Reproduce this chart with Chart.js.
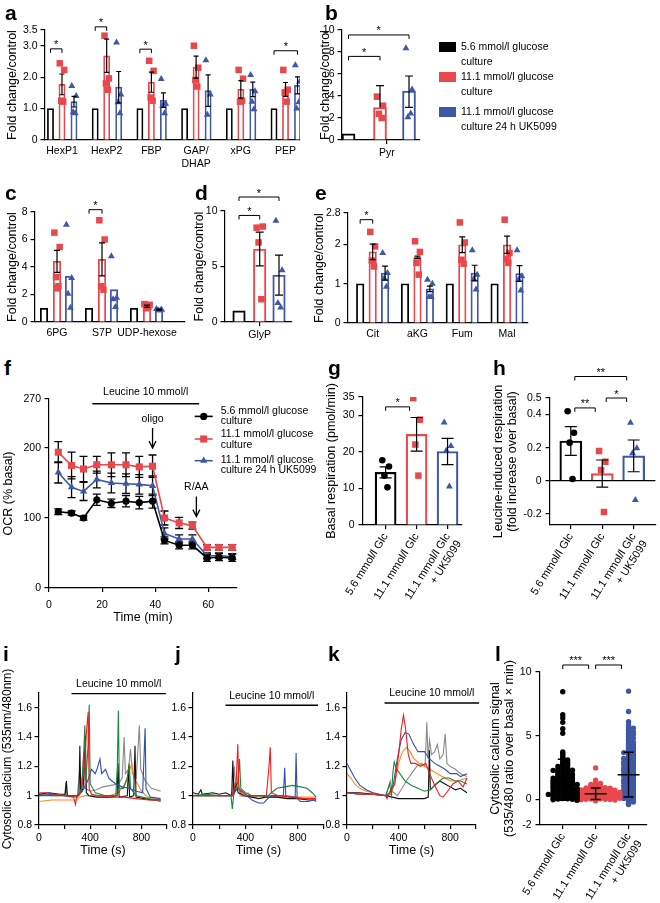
<!DOCTYPE html>
<html><head><meta charset="utf-8">
<script src="https://cdn.jsdelivr.net/npm/chart.js@4.4.1/dist/chart.umd.min.js"></script>
<style>
html,body{margin:0;padding:0;background:#fff;}
#fig{position:relative;width:660px;height:903px;overflow:hidden;background:#fff;font-family:"Liberation Sans",Arial,Helvetica,sans-serif;color:#000;}
#fig canvas{position:absolute;}
.pl{position:absolute;font-weight:bold;font-size:21px;line-height:21px;}
.lg{position:absolute;font-size:10.5px;line-height:15px;white-space:nowrap;}
.sw{position:absolute;width:17px;height:10px;}
</style></head><body><div id="fig"></div>
<script>
// ================= DATA =================
// panel a
const aCats = ['HexP1','HexP2','FBP',['GAP/','DHAP'],'xPG','PEP'];
const aYTicks = [0,1,2,3,3.5];
const aYLabels = ['0','1.0','2.0','3.0','3.5'];
const aCtrl = [1,1,1,1,1,1];
const aHigh = [1.77,2.68,1.84,2.32,1.61,1.61];
const aHighSem = [0.33,0.53,0.32,0.35,0.28,0.22];
const aUk = [1.22,1.68,1.27,1.57,1.61,1.74];
const aUkSem = [0.17,0.5,0.23,0.5,0.23,0.27];
const aHighPts = [[2.44,2.23,1.25,1.22],[3.32,1.96,1.8,1.6],[2.52,2.2,1.35,1.25],[3.0,2.3,1.91,1.7],[2.23,1.95,1.22,1.25],[2.23,1.6,1.5,1.22]];
const aUkPts = [[1.72,1.4,0.88,0.85],[3.1,1.45,1.2,0.85],[1.94,1.15,1.08,0.85],[2.54,1.45,0.8],[2.07,1.55,1.22,0.98],[2.38,1.85,1.0,1.2]];
const aSig = [[0,0,1,2.9,'*'],[1,0,1,3.6,'*'],[2,0,1,2.89,'*'],[5,0,2,2.84,'*']];
// panel b
const bCats = ['Pyr'];
const bYTicks = [0,2,4,6,8,10];
const bCtrl = [0.55];
const bHigh = [2.95], bHighSem = [2.0], bHighLo = [0];
const bUk = [4.45], bUkSem = [1.37], bUkLo = [1.48];
const bHighPts = [[3.94,3.12,2.38,2.0]];
const bUkPts = [[8.33,4.6,2.06,2.4]];
const bSig = [[0,0,1,7.6,'*'],[0,0,2,9.55,'*']];
const bLegend = [['5.6 mmol/l glucose','culture'],['11.1 mmol/l glucose','culture'],['11.1 mmol/l glucose','culture 24 h UK5099']];
// panel c
const cCats = ['6PG','S7P','UDP-hexose'];
const cYTicks = [0,2,4,6,8];
const cCtrl = [1,1,1];
const cHigh = [4.41,4.56,1.15], cHighSem = [0.8,1.2,0.08];
const cUk = [3.32,2.35,0.9], cUkSem = [0,0,0.03];
const cHighPts = [[6.5,5.45,3.27,2.6,2.45],[7.4,6.0,2.6,2.35],[1.3,1.25,1.0,1.1]];
const cUkPts = [[7.08,3.2,2.06,1.04],[4.78,1.77,1.65,1.1],[0.95,0.9,0.85,0.85]];
const cSig = [[1,0,1,8.17,'*']];
// panel d
const dCats = ['GlyP'];
const dYTicks = [0,5,10];
const dCtrl = [1];
const dHigh = [6.57], dHighSem = [1.52];
const dUk = [4.22], dUkSem = [1.8];
const dHighPts = [[8.5,8.6,7.17,2.05]];
const dUkPts = [[9.12,4.67,1.72,1.3]];
const dSig = [[0,0,1,9.6,'*'],[0,0,2,11.26,'*']];
// panel e
const eCats = ['Cit','aKG','Fum','Mal'];
const eYTicks = [0,1,2,2.8];
const eCtrl = [1,1,1,1];
const eHigh = [1.81,1.67,1.99,1.99], eHighSem = [0.2,0.03,0.2,0.22];
const eUk = [1.27,0.87,1.27,1.26], eUkSem = [0.18,0.07,0.2,0.2];
const eHighPts = [[2.32,1.95,1.59,1.44],[2.08,1.81,1.53,1.23],[2.56,2.05,1.61,1.51],[2.63,1.78,1.63,1.53]];
const eUkPts = [[1.78,1.27,1.13,0.92],[1.1,1.0,0.66,0.66],[1.85,1.23,1.12,0.85],[1.85,1.19,1.1,0.83]];
const eSig = [[0,0,1,2.63,'*']];
// panel f
const fTime = [3.5,8.5,13,18,23.5,29,34,39,43.5,49,54,59.5,64,69];
const fLow = [109,107,100,126,121,124,122,124,68,61,61,43,44,43];
const fLowSem = [4,3,3,8,6,8,9,10,5,5,5,5,5,5];
const fHigh = [194,175,170,176,176,176,173,174,100,93,89,58,58,58];
const fHighSem = [15,19,18,12,17,17,15,16,10,8,5,4,4,4];
const fUk = [165,144,138,155,150,149,148,146,78,70,70,46,46,45];
const fUkSem = [15,15,13,12,14,14,14,14,8,6,6,4,4,4];
const fYTicks = [0,100,200,270];
const fXTicks = [0,20,40,60];
const fLeucine = [16.3,56.5];
const fInject = [['oligo',39,200],['R/AA',55.5,102]];
const fLegend = [['5.6 mmol/l glucose','culture'],['11.1 mmol/l glucose','culture'],['11.1 mmol/l glucose','culture 24 h UK5099']];
// panel g
const gCats = ['5.6 mmol/l Glc','11.1 mmol/l Glc',['11.1 mmol/l Glc','+ UK5099']];
const gYTicks = [0,10,20,30,35];
const gLow = [14.4], gLowSem = [1.5], gLowPts = [[17.7,16,13.5,10.3]];
const gHigh = [24.8], gHighSem = [4.6], gHighPts = [[34.7,28.8,22,13.5]];
const gUk = [20.1], gUkSem = [3.6], gUkPts = [[28,21.6,20.3,10.5]];
const gSig = [[0,0,1,32.3,'*']];
// panel h
const hYTicks = [-0.2,0,0.2,0.4,0.5];
const hLow = [0.24], hLowSem = [0.087], hLowPts = [[0.42,0.29,0.23,0.01]];
const hHigh = [0.043], hHighSem = [0.082], hHighPts = [[0.18,0.115,0.065,-0.19]];
const hUk = [0.15], hUkSem = [0.096], hUkPts = [[0.35,0.196,0.166,-0.117]];
const hSig = [[0,0,1,0.44,'**'],[0,1,2,0.5,'*'],[0,0,2,0.63,'**']];
// panels i, j, k  (time s, 535/480 ratio)
const caXTicks = [0,200,400,600,800,1000];
const caXLabels = ['0','','400','','800',''];
const caYTicks = [0.8,1,1.2,1.4,1.6];
const caYLabels = ['0.8','1','1.2','1.4','1.6'];
const iLeucine = [254,991], jLeucine = [248,954], kLeucine = [291,1024];
const iRed = [[0,1.02],[60,1.02],[120,1.01],[200,1.0],[270,0.99],[285,0.94],[295,1.0],[330,1.03],[355,1.2],[372,1.45],[384,1.57],[392,1.05],[410,1.01],[470,1.0],[560,0.99],[660,0.99],[760,0.98],[860,0.97],[950,0.97]];
const iBlack = [[0,1.01],[80,1.02],[160,1.01],[205,1.01],[214,1.1],[222,1.0],[300,1.0],[312,1.0],[319,1.34],[326,1.02],[345,1.05],[362,1.41],[370,1.02],[390,1.0],[450,0.99],[560,0.99],[610,1.0],[618,1.22],[626,0.99],[690,1.0],[700,1.2],[708,0.99],[740,1.0],[750,1.34],[758,0.99],[820,0.98],[880,0.97],[950,0.97]];
const iGreen = [[0,1.0],[100,1.0],[200,1.0],[300,0.99],[335,1.05],[350,1.3],[358,1.48],[366,1.1],[384,1.35],[392,1.62],[400,1.08],[440,1.02],[520,1.0],[600,1.0],[612,1.2],[620,1.58],[628,1.05],[660,1.05],[690,1.12],[705,1.22],[715,1.05],[760,1.0],[860,0.98],[950,0.96]];
const iGray = [[0,1.01],[100,1.0],[200,1.0],[210,1.09],[218,1.0],[300,1.0],[320,1.2],[330,1.04],[350,1.3],[360,1.05],[400,1.03],[450,1.04],[500,1.06],[560,1.07],[620,1.08],[650,1.12],[665,1.4],[675,1.15],[700,1.18],[715,1.32],[730,1.15],[760,1.12],[784,1.48],[795,1.18],[830,1.1],[880,1.05],[950,1.03]];
const iOrange = [[0,0.96],[100,0.97],[200,0.97],[290,0.97],[320,0.99],[360,1.0],[450,1.0],[550,1.0],[620,1.02],[670,1.08],[700,1.15],[725,1.22],[740,1.12],[770,1.08],[800,1.03],[850,0.99],[950,0.97]];
const iBlue = [[0,1.0],[100,1.01],[200,1.0],[300,1.0],[340,1.03],[380,1.1],[410,1.18],[440,1.15],[460,1.2],[476,1.25],[490,1.15],[520,1.18],[545,1.12],[570,1.1],[600,1.08],[650,1.06],[700,1.05],[760,1.03],[810,1.02],[822,1.3],[829,1.46],[836,1.05],[870,0.99],[950,0.98]];
const jRed = [[0,1.0],[100,1.0],[200,1.0],[300,1.0],[330,1.1],[342,1.35],[350,1.05],[380,1.0],[450,1.0],[560,1.0],[580,1.2],[590,1.33],[598,1.02],[650,1.0],[750,0.99],[850,0.98],[940,0.98]];
const jBlack = [[0,1.02],[40,1.01],[60,1.04],[70,1.01],[150,1.02],[200,1.01],[250,1.02],[295,1.0],[304,1.24],[312,1.02],[330,1.08],[345,1.02],[400,1.0],[450,0.99],[500,0.98],[560,0.99],[640,0.99],[720,0.98],[800,0.98],[880,0.97],[940,0.97]];
const jGreen = [[0,1.0],[100,1.01],[200,1.0],[290,1.0],[300,0.91],[310,1.0],[345,1.1],[355,1.25],[365,1.05],[400,1.02],[450,1.0],[520,1.0],[560,0.99],[600,1.02],[640,1.05],[700,1.06],[760,1.07],[820,1.06],[870,1.05],[910,1.02],[940,0.99]];
const jGray = [[0,1.0],[100,1.0],[200,1.0],[300,1.0],[315,1.2],[325,1.05],[345,1.1],[360,1.0],[450,0.99],[550,1.0],[650,0.99],[750,0.99],[850,0.98],[940,0.98]];
const jOrange = [[0,1.0],[100,1.0],[200,1.0],[300,1.0],[335,1.15],[345,1.05],[400,1.0],[420,1.02],[440,1.0],[520,1.0],[600,1.0],[700,1.0],[800,0.99],[940,0.99]];
const jBlue = [[0,1.0],[100,1.0],[200,1.0],[300,1.0],[340,1.05],[360,1.04],[400,1.01],[450,0.97],[500,0.95],[540,0.95],[570,0.98],[600,1.0],[650,1.0],[690,1.0],[700,1.19],[708,1.0],[750,0.99],[780,0.99],[787,1.29],[795,0.98],[820,0.96],[880,0.96],[920,0.97],[940,0.96]];
const kRed = [[0,1.02],[100,1.01],[200,1.01],[300,1.0],[310,0.98],[330,1.02],[370,1.08],[400,1.28],[420,1.45],[438,1.55],[455,1.45],[475,1.28],[495,1.22],[530,1.22],[570,1.2],[610,1.22],[640,1.15],[680,1.07],[720,1.0],[745,0.99],[780,1.03],[820,1.08],[860,1.1],[900,1.06],[930,1.12]];
const kBlack = [[0,1.02],[100,1.02],[200,1.01],[300,1.0],[350,0.99],[400,0.98],[500,0.98],[600,0.98],[630,0.99],[639,1.31],[646,1.04],[680,1.07],[720,1.1],[760,1.08],[800,1.06],[840,1.04],[880,1.05],[930,1.02]];
const kGreen = [[0,1.02],[100,1.01],[200,1.01],[300,1.0],[330,1.08],[345,1.0],[355,1.15],[366,1.23],[380,1.19],[410,1.15],[450,1.1],[500,1.07],[550,1.05],[600,1.03],[645,1.04],[690,1.08],[745,1.12],[790,1.12],[840,1.1],[880,1.1],[930,1.08]];
const kGray = [[0,1.02],[100,1.01],[200,1.01],[300,1.0],[320,1.05],[335,1.1],[350,1.03],[390,1.0],[420,1.04],[460,1.1],[500,1.15],[540,1.2],[580,1.22],[605,1.2],[619,1.5],[628,1.25],[640,1.38],[655,1.28],[680,1.3],[700,1.35],[720,1.25],[745,1.28],[761,1.42],[775,1.22],[800,1.2],[840,1.18],[880,1.15],[930,1.13]];
const kOrange = [[0,1.15],[30,1.12],[60,1.08],[100,1.05],[150,1.03],[200,1.02],[300,1.0],[340,1.01],[370,1.08],[400,1.22],[430,1.3],[460,1.33],[490,1.3],[520,1.25],[560,1.22],[600,1.2],[640,1.18],[700,1.15],[760,1.12],[800,1.1],[850,1.1],[930,1.12]];
const kBlue = [[0,1.22],[30,1.17],[60,1.12],[100,1.07],[150,1.04],[200,1.02],[300,1.0],[330,1.02],[360,1.08],[390,1.25],[420,1.38],[450,1.43],[480,1.42],[510,1.36],[550,1.3],[600,1.3],[640,1.25],[680,1.22],[720,1.2],[760,1.18],[800,1.15],[850,1.15],[880,1.13],[930,1.15]];
// panel l
const lYTicks = [-2,0,5,10];
const lLow = [8.45,6.65,6.4,6.05,5.55,5.2,3.72,3.6,3.45,3.3,3.2,3.1,3.0,2.95,2.85,2.8,2.72,2.65,2.6,2.55,2.48,2.42,2.4,2.35,2.3,2.28,2.22,2.18,2.15,2.1,2.05,2.02,1.98,1.95,1.9,1.88,1.84,1.8,1.78,1.74,1.7,1.68,1.64,1.6,1.58,1.55,1.5,1.48,1.45,1.42,1.4,1.36,1.33,1.3,1.27,1.24,1.2,1.18,1.15,1.12,1.1,1.06,1.03,1.0,0.98,0.95,0.92,0.9,0.87,0.84,0.82,0.8,0.77,0.74,0.72,0.7,0.67,0.64,0.62,0.6,0.57,0.54,0.52,0.5,0.47,0.44,0.42,0.4,0.37,0.34,0.32,0.3,0.27,0.24,0.22,0.2,0.17,0.14,0.12,0.1,0.07,0.05,0.03,0.01,-0.02,-0.05];
const lHigh = [2.48,1.52,1.32,1.25,1.18,1.12,1.08,1.04,1.0,0.98,0.95,0.92,0.9,0.88,0.86,0.84,0.82,0.8,0.78,0.76,0.74,0.72,0.7,0.69,0.67,0.65,0.63,0.62,0.6,0.58,0.57,0.55,0.54,0.52,0.5,0.49,0.47,0.46,0.44,0.43,0.41,0.4,0.38,0.37,0.35,0.34,0.32,0.31,0.3,0.28,0.27,0.25,0.24,0.22,0.21,0.2,0.18,0.17,0.15,0.14,0.13,0.11,0.1,0.08,0.07,0.05,0.04,0.02,0.01,0.0,-0.02,-0.04,-0.06,-0.1];
const lUk = [8.5,6.9,6.1,5.85,5.7,5.6,5.5,5.4,5.3,5.2,5.1,5.0,4.9,4.8,4.7,4.6,4.5,4.42,4.35,4.25,4.18,4.1,4.02,3.95,3.88,3.8,3.74,3.68,3.6,3.54,3.48,3.4,3.35,3.28,3.22,3.15,3.1,3.05,2.98,2.92,2.86,2.8,2.74,2.68,2.62,2.56,2.5,2.45,2.4,2.34,2.28,2.22,2.16,2.1,2.05,2.0,1.94,1.88,1.82,1.76,1.7,1.64,1.58,1.52,1.46,1.4,1.34,1.28,1.22,1.16,1.1,1.04,0.98,0.92,0.86,0.8,0.74,0.68,0.62,0.56,0.5,0.44,0.38,0.32,0.26,0.2,0.14,0.08,0.02,-0.05,-0.12,-0.2,-0.3,-0.4];
const lMean = [1.55,0.45,1.95];
const lSd = [1.6,0.45,1.75];
const lSig = [[0,1,10.55,'***'],[1,2,10.55,'***']];

// ================= SETUP =================
const FONT = '"Liberation Sans", Arial, Helvetica, sans-serif';
Chart.defaults.font.family = FONT;
Chart.defaults.color = '#000';
Chart.defaults.animation = false;
Chart.defaults.responsive = false;
Chart.defaults.events = [];
Chart.defaults.plugins.legend.display = false;
Chart.defaults.plugins.tooltip.enabled = false;
const RED = '#e8474c', BLUE = '#3e58a6', BLK = '#000000';
const fig = document.getElementById('fig');

function makeCanvas(area, ext){
  const c = document.createElement('canvas');
  const L = area.x0 - ext.l, T = area.y0 - ext.t;
  const W = Math.round(area.x1 - area.x0 + ext.l + ext.r), H = Math.round(area.y1 - area.y0 + ext.t + ext.b);
  c.width = W; c.height = H;
  c.style.left = L + 'px'; c.style.top = T + 'px'; c.style.width = W + 'px'; c.style.height = H + 'px';
  fig.appendChild(c);
  return {c, L, T};
}
function xAxis(o){
  return {type:'linear', min:o.min, max:o.max, offset:false, position:'bottom',
    afterFit: s => { s.height = o.height; },
    afterBuildTicks: s => { s.ticks = o.ticks.map(v => ({value:v})); },
    ticks:{autoSkip:false, includeBounds:false, maxRotation:o.rot||0, minRotation:o.rot||0, font:{size:o.fs||10.5}, color:'#000', padding:(o.pad===undefined?3:o.pad), callback:(v,i)=>o.labels[i]},
    grid:{offset:false, drawOnChartArea:false, drawTicks:true, tickLength:(o.tl===undefined?4:o.tl), color:(o.tl===0?'rgba(0,0,0,0)':'#000'), lineWidth:1.2},
    border:{display:true, color:'#000', width:1.2},
    title: o.title ? {display:true, text:o.title, font:{size:12.5}, color:'#000', padding:{top:0, bottom:o.tpb||0}} : {display:false}};
}
function yAxis(o){
  return {type:'linear', min:o.min, max:o.max, position:'left',
    afterFit: s => { s.width = o.width; },
    afterBuildTicks: s => { s.ticks = o.ticks.map(v => ({value:v})); },
    ticks:{autoSkip:false, font:{size:o.fs||10.5}, color:'#000', padding:(o.pad===undefined?3:o.pad), callback:(v,i)=>o.labels[i]},
    grid:{drawOnChartArea:!!o.zero, drawTicks:true, tickLength:(o.tl||4.5), tickColor:'#000', tickWidth:1.2,
      color:(o.zero ? (ctx => (ctx.tick && ctx.tick.value === 0) ? '#000' : 'rgba(0,0,0,0)') : '#000'), lineWidth:1.2},
    border:{display:true, color:'#000', width:1.2},
    title: o.title ? {display:true, text:o.title, font:{size:(o.tfs||12.5), lineHeight:(o.lh||1.2)}, color:'#000', padding:{top:o.tp||0, bottom:0}} : {display:false}};
}
function drawErr(ch, o){
  if (!o || !o.items) return;
  const ctx = ch.ctx, x = ch.scales.x, y = ch.scales.y;
  ctx.save(); ctx.lineWidth = o.lw || 1.2; ctx.strokeStyle = '#000';
  for (const it of o.items){
    const lo = (it.lo === undefined ? it.e : it.lo);
    const px = x.getPixelForValue(it.x);
    const yt = y.getPixelForValue(it.m + it.e), yb = y.getPixelForValue(it.m - lo), ym = y.getPixelForValue(it.m);
    ctx.beginPath();
    if (it.e > 0 || lo > 0){ ctx.moveTo(px, yt); ctx.lineTo(px, yb); }
    if (it.e > 0){ ctx.moveTo(px - o.cap/2, yt); ctx.lineTo(px + o.cap/2, yt); }
    if (lo > 0){ ctx.moveTo(px - o.cap/2, yb); ctx.lineTo(px + o.cap/2, yb); }
    if (o.meanW){ ctx.moveTo(px - o.meanW/2, ym); ctx.lineTo(px + o.meanW/2, ym); }
    ctx.stroke();
  }
  ctx.restore();
}
const errPlugin = {id:'errbars',
  beforeDatasetsDraw(ch, a, o){ if (o && o.under) drawErr(ch, o); },
  afterDatasetsDraw(ch, a, o){ if (o && !o.under) drawErr(ch, o); }};
const brPlugin = {id:'brackets', afterDraw(ch, a, o){
  if (!o || !o.items) return;
  const ctx = ch.ctx, x = ch.scales.x, y = ch.scales.y;
  ctx.save(); ctx.strokeStyle = '#000'; ctx.fillStyle = '#000'; ctx.lineWidth = 1;
  ctx.font = '11px ' + FONT; ctx.textAlign = 'center'; ctx.textBaseline = 'alphabetic';
  for (const b of o.items){
    const x1 = x.getPixelForValue(b.x1) + (o.in1||0), x2 = x.getPixelForValue(b.x2) - (o.in2||0), py = y.getPixelForValue(b.y);
    ctx.beginPath(); ctx.moveTo(x1, py + o.tick); ctx.lineTo(x1, py); ctx.lineTo(x2, py); ctx.lineTo(x2, py + o.tick); ctx.stroke();
    ctx.fillText(b.t, (x1 + x2)/2, py - 0.5);
  }
  ctx.restore();
}};
const leuPlugin = {id:'leu', afterDraw(ch, a, o){
  if (!o || !o.t) return;
  const ctx = ch.ctx, x = ch.scales.x, top = ch.chartArea.top;
  const x1 = x.getPixelForValue(o.t[0]), x2 = x.getPixelForValue(o.t[1]);
  ctx.save(); ctx.strokeStyle = '#000'; ctx.lineWidth = 1.4;
  ctx.beginPath(); ctx.moveTo(x1, top + o.barDy); ctx.lineTo(x2, top + o.barDy); ctx.stroke();
  ctx.fillStyle = '#000'; ctx.font = '10.5px ' + FONT; ctx.textAlign = 'center'; ctx.textBaseline = 'middle';
  ctx.fillText('Leucine 10 mmol/l', (x1 + x2)/2, top + o.textDy);
  ctx.restore();
}};
Chart.register(errPlugin, brPlugin, leuPlugin);

const JIT = [-2.2, 2.2, -0.8, 1.2, 0];
function panelBars(P){
  const {c} = makeCanvas(P.area, P.ext);
  const pxu = (P.area.x1 - P.area.x0) / (P.xMax - P.xMin);
  const ds = [], err = [];
  P.series.forEach((s, k) => {
    const off = P.offPx[k] / pxu;
    ds.push({type:'bar', data:s.mean.map((m,i)=>({x:i+off, y:m})), backgroundColor:'#ffffff', borderColor:s.color, borderWidth:P.bw, barThickness:P.barPx, grouped:false, borderSkipped:'start', order:5});
    if (s.pts) ds.push({type:'scatter', data:s.pts.flatMap((arr,i)=>arr.map((v,j)=>({x:i+off+JIT[j%JIT.length]*P.jit/pxu, y:v}))),
      pointStyle:s.style, pointRadius:s.r, pointBackgroundColor:s.color, pointBorderColor:s.color, pointBorderWidth:0, order:1});
    if (s.sem) s.sem.forEach((e,i)=>err.push({x:i+off, m:s.mean[i], e:e, lo:(s.lo?s.lo[i]:undefined)}));
  });
  const br = (P.sig||[]).map(b => ({x1:b[0]+P.offPx[b[1]]/pxu, x2:b[0]+P.offPx[b[2]]/pxu, y:b[3], t:b[4]}));
  const xo = Object.assign({min:P.xMin, max:P.xMax, height:P.ext.b}, P.x);
  const yo = Object.assign({width:P.ext.l}, P.y);
  return new Chart(c, {type:'bar', data:{datasets:ds}, options:{
    layout:{padding:{left:0, top:P.ext.t, right:P.ext.r, bottom:0}},
    scales:{x:xAxis(xo), y:yAxis(yo)},
    plugins:{errbars:{items:err, cap:P.cap, lw:1.2}, brackets:{items:br, in1:P.in1||0, in2:P.in2||0, tick:4}}}});
}
const idx = arr => arr.map((c,i)=>i);

// ---------- a ----------
panelBars({area:{x0:45,x1:300,y0:30,y1:140}, ext:{l:45,r:6,t:22,b:32}, xMin:-0.380, xMax:5.324,
  offPx:[-11.5,0,12], barPx:6.2, bw:1.7, cap:5, jit:1,
  x:{ticks:idx(aCats), labels:aCats, tl:0, pad:5, fs:10.5},
  y:{min:0, max:3.5, ticks:aYTicks, labels:aYLabels, title:'Fold change/control', tp:5.5, pad:3},
  series:[{mean:aCtrl, color:BLK},{mean:aHigh, sem:aHighSem, pts:aHighPts, color:RED, style:'rect', r:4.6},{mean:aUk, sem:aUkSem, pts:aUkPts, color:BLUE, style:'triangle', r:4}],
  sig:aSig});
// ---------- b ----------
panelBars({area:{x0:342,x1:420,y0:30,y1:140}, ext:{l:42,r:6,t:20,b:26}, xMin:-1.267, xMax:1.333,
  offPx:[-31.5,0,29], barPx:13, bw:2, cap:8, jit:1.4,
  x:{ticks:[0.23], labels:bCats, pad:3, fs:10.5},
  y:{min:0, max:10, ticks:bYTicks, labels:bYTicks.map(String), title:'Fold change/control', tp:18.5, pad:3},
  series:[{mean:bCtrl, color:BLK},{mean:bHigh, sem:bHighSem, lo:bHighLo, pts:bHighPts, color:RED, style:'rect', r:4.6},{mean:bUk, sem:bUkSem, lo:bUkLo, pts:bUkPts, color:BLUE, style:'triangle', r:4}],
  sig:bSig});
// ---------- c ----------
panelBars({area:{x0:35,x1:185,y0:212,y1:322}, ext:{l:35,r:6,t:24,b:24}, xMin:-0.489, xMax:2.844,
  offPx:[-13,0,12], barPx:7.5, bw:1.8, cap:6, jit:1.2,
  x:{ticks:idx(cCats), labels:cCats, tl:0, pad:5, fs:10.5},
  y:{min:0, max:8, ticks:cYTicks, labels:cYTicks.map(String), title:'Fold change/control', tp:5, pad:3},
  series:[{mean:cCtrl, color:BLK},{mean:cHigh, sem:cHighSem, pts:cHighPts, color:RED, style:'rect', r:4.6},{mean:cUk, sem:cUkSem, pts:cUkPts, color:BLUE, style:'triangle', r:4}],
  sig:cSig});
// ---------- d ----------
panelBars({area:{x0:225,x1:292,y0:211,y1:322}, ext:{l:35,r:6,t:34,b:24}, xMin:-1.735, xMax:1.615,
  offPx:[-20.7,0,19.3], barPx:12.5, bw:2, cap:8, jit:1.4,
  x:{ticks:[0], labels:dCats, pad:3, fs:10.5},
  y:{min:0, max:10, ticks:dYTicks, labels:dYTicks.map(String), title:'Fold change/control', tp:2.5, pad:3},
  series:[{mean:dCtrl, color:BLK},{mean:dHigh, sem:dHighSem, pts:dHighPts, color:RED, style:'rect', r:4.6},{mean:dUk, sem:dUkSem, pts:dUkPts, color:BLUE, style:'triangle', r:4}],
  sig:dSig});
// ---------- e ----------
panelBars({area:{x0:348,x1:528,y0:213,y1:323}, ext:{l:40,r:8,t:22,b:24}, xMin:-0.551, xMax:3.467,
  offPx:[-12.5,0,12.4], barPx:7.5, bw:1.8, cap:6, jit:1.1,
  x:{ticks:idx(eCats), labels:eCats, tl:0, pad:5, fs:10.5},
  y:{min:0, max:2.8, ticks:eYTicks, labels:eYTicks.map(String), title:'Fold change/control', tp:4.5, pad:3},
  series:[{mean:eCtrl, color:BLK},{mean:eHigh, sem:eHighSem, pts:eHighPts, color:RED, style:'rect', r:4.6},{mean:eUk, sem:eUkSem, pts:eUkPts, color:BLUE, style:'triangle', r:4}],
  sig:eSig});

// ---------- f ----------
(function(){
  const area = {x0:49.3, x1:237, y0:399.3, y1:588.3}, ext = {l:49, r:92, t:20, b:38};
  const {c, L, T} = makeCanvas(area, ext);
  const mk = (vals, col, style, r) => ({type:'line', data:fTime.map((t,i)=>({x:t, y:vals[i]})), borderColor:col, borderWidth:1.6,
    pointStyle:style, pointRadius:r, pointBackgroundColor:col, pointBorderColor:col, pointBorderWidth:0, tension:0});
  const err = [];
  [[fLow,fLowSem],[fHigh,fHighSem],[fUk,fUkSem]].forEach(([v,s]) => fTime.forEach((t,i) => err.push({x:t, m:v[i], e:s[i]})));
  const fExtra = {id:'fextra', afterDraw(ch){
    const ctx = ch.ctx, x = ch.scales.x, y = ch.scales.y;
    ctx.save(); ctx.fillStyle = '#000'; ctx.strokeStyle = '#000'; ctx.lineWidth = 1.3;
    ctx.font = '10.5px ' + FONT; ctx.textAlign = 'center'; ctx.textBaseline = 'middle';
    for (const [lab, t, tip] of fInject){
      const px = x.getPixelForValue(t), py = y.getPixelForValue(tip);
      ctx.beginPath(); ctx.moveTo(px, py - 20); ctx.lineTo(px, py); ctx.moveTo(px - 3.5, py - 7); ctx.lineTo(px, py); ctx.lineTo(px + 3.5, py - 7); ctx.stroke();
      ctx.fillText(lab, px, py - 29);
    }
    const cols = [BLK, RED, BLUE], styles = ['circle','rect','triangle'], rads = [3.6,5,4.2];
    const rowY = [416.7, 439.3, 461], textY = [[411,421.5],[434.5,445],[460,470.5]];
    ctx.textAlign = 'left';
    fLegend.forEach((lines, k) => {
      const ry = rowY[k] - T;
      ctx.strokeStyle = cols[k]; ctx.lineWidth = 1.6;
      ctx.beginPath(); ctx.moveTo(195 - L, ry); ctx.lineTo(213 - L, ry); ctx.stroke();
      ctx.fillStyle = cols[k];
      Chart.helpers.drawPoint(ctx, {pointStyle:styles[k], radius:rads[k], rotation:0, borderWidth:0}, 204 - L, ry);
      ctx.fillStyle = '#000';
      lines.forEach((s, j) => ctx.fillText(s, 221 - L, textY[k][j] - T));
    });
    ctx.restore();
  }};
  new Chart(c, {type:'line', data:{datasets:[mk(fHigh,RED,'rect',5), mk(fLow,BLK,'circle',3.6), mk(fUk,BLUE,'triangle',4.2)]},
    options:{layout:{padding:{left:0, top:ext.t, right:ext.r, bottom:0}},
      scales:{x:xAxis({min:0, max:70.8, ticks:fXTicks, labels:fXTicks.map(String), height:ext.b, pad:7, title:'Time (min)', tpb:1}),
              y:yAxis({min:0, max:270, ticks:fYTicks, labels:fYTicks.map(String), width:ext.l, title:'OCR (% basal)', tp:1.2, pad:3.5})},
      plugins:{errbars:{items:err, cap:8, under:true, lw:1.3}, leu:{t:fLeucine, barDy:4.7, textDy:-7.3}}},
    plugins:[fExtra]});
})();

// ---------- g ----------
panelBars({area:{x0:363,x1:467,y0:396.7,y1:525}, ext:{l:40,r:6,t:18,b:80}, xMin:-0.729, xMax:2.46,
  offPx:[0,32.5,65], barPx:21, bw:2.2, cap:12, jit:1.6,
  x:{ticks:[0,1,2], labels:gCats, rot:58, pad:2, fs:11},
  y:{min:0, max:35, ticks:gYTicks, labels:gYTicks.map(String), title:'Basal respiration (pmol/min)', tp:1.2, pad:4},
  series:[{mean:gLow, sem:gLowSem, pts:gLowPts, color:BLK, style:'circle', r:3.3},{mean:gHigh, sem:gHighSem, pts:gHighPts, color:RED, style:'rect', r:4.6},{mean:gUk, sem:gUkSem, pts:gUkPts, color:BLUE, style:'triangle', r:4}],
  sig:gSig, in1:0, in2:7});
// ---------- h ----------
panelBars({area:{x0:550,x1:660,y0:398.2,y1:525}, ext:{l:60,r:0,t:30,b:80}, xMin:-0.662, xMax:2.692,
  offPx:[0,32.8,65.6], barPx:22, bw:2.2, cap:12, jit:1.5,
  x:{ticks:[0,1,2], labels:gCats, rot:58, pad:2, fs:11},
  y:{min:-0.268, max:0.5, ticks:hYTicks, labels:['-0.2','0','0.2','0.4','0.5'], title:['Leucine-induced respiration','(fold increase over basal)'], tp:2, lh:1.12, pad:4, zero:true},
  series:[{mean:hLow, sem:hLowSem, pts:hLowPts, color:BLK, style:'circle', r:3.3},{mean:hHigh, sem:hHighSem, pts:hHighPts, color:RED, style:'rect', r:4.6},{mean:hUk, sem:hUkSem, pts:hUkPts, color:BLUE, style:'triangle', r:4}],
  sig:hSig, in1:4, in2:7});

// ---------- i, j, k ----------
function tracePanel(area, ext, list, leu, title){
  const {c} = makeCanvas(area, ext);
  new Chart(c, {type:'line', data:{datasets:list.map(([d,col]) => ({data:d.map(p=>({x:p[0], y:p[1]})), borderColor:col, borderWidth:1.1, pointRadius:0, tension:0, fill:false}))},
    options:{layout:{padding:{left:0, top:ext.t, right:ext.r, bottom:0}},
      scales:{x:xAxis({min:0, max:1000, ticks:caXTicks, labels:caXLabels, height:ext.b, pad:3, title:'Time (s)', tpb:2.8}),
              y:yAxis({min:0.8, max:1.7, ticks:caYTicks, labels:caYLabels, width:ext.l, title:title, tp:0, pad:2.5, tfs:12})},
      plugins:{leu:leu}}});
}
const TR = {red:'#f21c1c', blue:'#2f4fb3', green:'#17893a', black:'#111111', orange:'#ff8a1c', gray:'#8a8a8a'};
tracePanel({x0:39.3,x1:167.3,y0:692.7,y1:824.3}, {l:39,r:8,t:34,b:36},
  [[iRed,TR.red],[iBlue,TR.blue],[iGreen,TR.green],[iBlack,TR.black],[iOrange,TR.orange],[iGray,TR.gray]],
  {t:iLeucine, barDy:0.6, textDy:-8.7}, 'Cytosolic calcium (535nm/480nm)');
tracePanel({x0:193.3,x1:324.7,y0:692.7,y1:824.3}, {l:30,r:8,t:12,b:36},
  [[jRed,TR.red],[jBlue,TR.blue],[jGreen,TR.green],[jBlack,TR.black],[jOrange,TR.orange],[jGray,TR.gray]],
  {t:jLeucine, barDy:12.3, textDy:3.1}, null);
tracePanel({x0:346.7,x1:475.9,y0:692.7,y1:824.3}, {l:30,r:10,t:12,b:36},
  [[kRed,TR.red],[kBlue,TR.blue],[kGreen,TR.green],[kBlack,TR.black],[kOrange,TR.orange],[kGray,TR.gray]],
  {t:kLeucine, barDy:10, textDy:0.6}, null);

// ---------- l ----------
function swarm(vals, pxu, pyu){
  const rowH = 2.0 / pyu, rows = new Map();
  return vals.map(v => {
    const r = Math.round(v / rowH); const n = rows.get(r) || 0; rows.set(r, n + 1);
    const k = n === 0 ? 0 : (n % 2 ? (n + 1) / 2 : -n / 2);
    return k * 4.8 / pxu;
  });
}
(function(){
  const area = {x0:540, x1:646.7, y0:671.7, y1:825}, ext = {l:52, r:13, t:22, b:78};
  const xMin = -0.692, xMax = 2.561;
  const {c} = makeCanvas(area, ext);
  const pxu = (area.x1 - area.x0) / (xMax - xMin), pyu = (area.y1 - area.y0) / 12;
  const groups = [[lLow, BLK], [lHigh, RED], [lUk, BLUE]];
  const ds = groups.map(([vals, col], k) => { const off = swarm(vals, pxu, pyu);
    return {type:'scatter', data:vals.map((v,j)=>({x:k + off[j], y:v})), pointStyle:'circle', pointRadius:2.7, pointBackgroundColor:col, pointBorderColor:col, pointBorderWidth:0}; });
  const err = lMean.map((m,k) => ({x:k, m:m, e:lSd[k]}));
  const br = lSig.map(b => ({x1:b[0], x2:b[1], y:b[2], t:b[3]}));
  new Chart(c, {type:'scatter', data:{datasets:ds}, options:{
    layout:{padding:{left:0, top:ext.t, right:ext.r, bottom:0}},
    scales:{x:xAxis({min:xMin, max:xMax, ticks:[0,1,2], labels:gCats, rot:58, pad:2, fs:11, height:ext.b}),
            y:yAxis({min:-2, max:10, ticks:lYTicks, labels:lYTicks.map(String), width:ext.l, title:['Cytosolic calcium signal','(535/480 ratio over basal \u00d7 min)'], tp:1, lh:1.12, pad:4})},
    plugins:{errbars:{items:err, cap:10, meanW:22, lw:1.5}, brackets:{items:br, in1:0, in2:7, tick:4}}}});
})();

// ---------- panel letters ----------
[['a',5,2],['b',325,2],['c',5,182],['d',195,182],['e',315,182],['f',4,357],['g',328,357],['h',493,357],['i',3,643],['j',175,643],['k',328,643],['l',495,643]]
  .forEach(([t,x,y]) => { const d = document.createElement('div'); d.className = 'pl'; d.textContent = t; d.style.left = x + 'px'; d.style.top = y + 'px'; fig.appendChild(d); });
// ---------- legend b ----------
[[BLK,41.7,39.2],[RED,71.7,69.2],[BLUE,107,103.5]].forEach(([col, sy, ty], k) => {
  const s = document.createElement('div'); s.className = 'sw'; s.style.left = '439px'; s.style.top = sy + 'px'; s.style.background = col; fig.appendChild(s);
  const t = document.createElement('div'); t.className = 'lg'; t.style.left = '461px'; t.style.top = ty + 'px';
  t.innerHTML = bLegend[k][0] + '<br>' + bLegend[k][1]; fig.appendChild(t);
});
</script></body></html>
